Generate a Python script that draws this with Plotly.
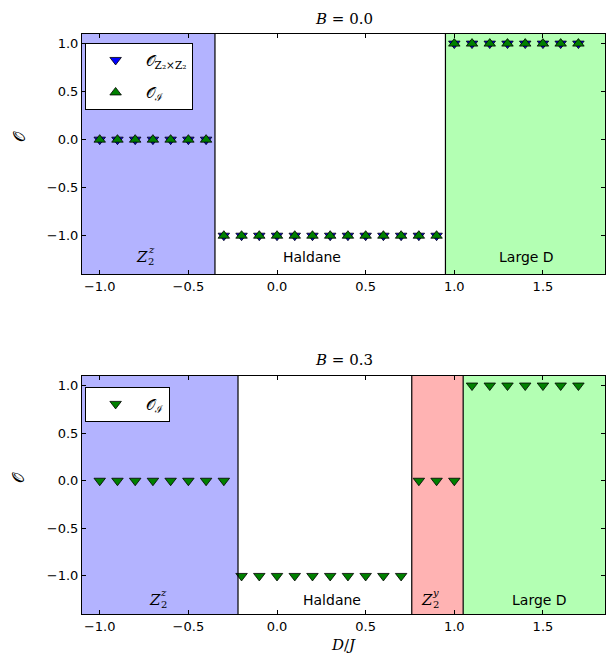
import plotly.graph_objects as go
from plotly.subplots import make_subplots

# ---- data (top panel, B = 0.0) ----
top_D = [-1.0, -0.9, -0.8, -0.7, -0.6, -0.5, -0.4,
         -0.3, -0.2, -0.1, 0.0, 0.1, 0.2, 0.3, 0.4, 0.5, 0.6, 0.7, 0.8, 0.9,
         1.0, 1.1, 1.2, 1.3, 1.4, 1.5, 1.6, 1.7]
top_O_Z2Z2 = [0, 0, 0, 0, 0, 0, 0,
              -1, -1, -1, -1, -1, -1, -1, -1, -1, -1, -1, -1, -1,
              1, 1, 1, 1, 1, 1, 1, 1]
top_O_I = [0, 0, 0, 0, 0, 0, 0,
           -1, -1, -1, -1, -1, -1, -1, -1, -1, -1, -1, -1, -1,
           1, 1, 1, 1, 1, 1, 1, 1]
top_bounds = [-0.35, 0.95]

# ---- data (bottom panel, B = 0.3) ----
bot_D = [-1.0, -0.9, -0.8, -0.7, -0.6, -0.5, -0.4, -0.3,
         -0.2, -0.1, 0.0, 0.1, 0.2, 0.3, 0.4, 0.5, 0.6, 0.7,
         0.8, 0.9, 1.0,
         1.1, 1.2, 1.3, 1.4, 1.5, 1.6, 1.7]
bot_O_I = [0, 0, 0, 0, 0, 0, 0, 0,
           -1, -1, -1, -1, -1, -1, -1, -1, -1, -1,
           0, 0, 0,
           1, 1, 1, 1, 1, 1, 1]
bot_bounds = [-0.22, 0.76, 1.05]

x_range = [-1.1, 1.85]
y_range = [-1.4, 1.1]
x_ticks = [-1.0, -0.5, 0.0, 0.5, 1.0, 1.5]
y_ticks = [-1.0, -0.5, 0.0, 0.5, 1.0]

BLUE_BG = "#b3b3ff"
GREEN_BG = "#b3ffb3"
RED_BG = "#ffb3b3"

fig = make_subplots(rows=2, cols=1, vertical_spacing=0.176)
fig.update_layout(
    xaxis=dict(domain=[0, 1]), yaxis=dict(domain=[0.586, 1.0]),
    xaxis2=dict(domain=[0, 1]), yaxis2=dict(domain=[0.0, 0.4103]),
)

O = "\U0001D4AA"
mk = dict(size=10, line=dict(color="black", width=0.8))

fig.add_trace(go.Scatter(x=top_D, y=top_O_Z2Z2, mode="markers",
                         name=O + "<sub>Z₂×Z₂</sub>", legendgroup="a",
                         marker=dict(symbol="triangle-down", color="#0000ff", **mk),
                         legend="legend"), row=1, col=1)
fig.add_trace(go.Scatter(x=top_D, y=top_O_I, mode="markers",
                         name=O + "<sub>ℐ</sub>", legendgroup="b",
                         marker=dict(symbol="triangle-up", color="#008000", **mk),
                         legend="legend"), row=1, col=1)
fig.add_trace(go.Scatter(x=bot_D, y=bot_O_I, mode="markers",
                         name=O + "<sub>ℐ</sub>", legendgroup="c",
                         marker=dict(symbol="triangle-down", color="#008000", **mk),
                         legend="legend2"), row=2, col=1)

def regions(xref, yref, bounds, colors):
    edges = [x_range[0]] + bounds + [x_range[1]]
    for i, c in enumerate(colors):
        if c is None:
            continue
        fig.add_shape(type="rect", xref=xref, yref=yref + " domain",
                      x0=edges[i], x1=edges[i + 1], y0=0, y1=1,
                      fillcolor=c, line=dict(width=0), layer="below")
    for b in bounds:
        fig.add_shape(type="line", xref=xref, yref=yref + " domain",
                      x0=b, x1=b, y0=0, y1=1,
                      line=dict(color="black", width=1.2), layer="above")

regions("x", "y", top_bounds, [BLUE_BG, None, GREEN_BG])
regions("x2", "y2", bot_bounds, [BLUE_BG, None, RED_BG, GREEN_BG])

ax = dict(showline=True, linecolor="black", linewidth=1, mirror="allticks",
          ticks="inside", ticklen=4, tickcolor="black", showgrid=False,
          zeroline=False, tickfont=dict(family="DejaVu Sans", size=13, color="black"))
fig.update_xaxes(range=x_range, tickvals=x_ticks, tickformat=".1f", **ax)
fig.update_yaxes(range=y_range, tickvals=y_ticks, tickformat=".1f", **ax)

serif = "DejaVu Serif"
ann = []
def lab(text, x, y, xref, yref, size=14, fam="DejaVu Sans", xs=0, ys=0):
    ann.append(dict(text=text, x=x, y=y, xref=xref, yref=yref, showarrow=False,
                    font=dict(family=fam, size=size, color="black"),
                    xanchor="center", yanchor="middle", xshift=xs, yshift=ys))

def zlab(sup, x, y, xref, yref):
    lab("<i>Z</i>", x, y, xref, yref, 15, serif)
    lab("2", x, y, xref, yref, 10, serif, xs=9, ys=-5)
    lab("<i>%s</i>" % sup, x, y, xref, yref, 10, serif, xs=9, ys=7)

zlab("z", -0.76, -1.22, "x", "y")
lab("Haldane", 0.2, -1.22, "x", "y", 14)
lab("Large D", 1.41, -1.22, "x", "y", 14)
zlab("z", -0.69, -1.25, "x2", "y2")
lab("Haldane", 0.31, -1.25, "x2", "y2", 14)
zlab("y", 0.845, -1.25, "x2", "y2")
lab("Large D", 1.48, -1.25, "x2", "y2", 14)

lab("<i>B</i> = 0.0", 0.5, 1.026, "paper", "paper", 15, serif)
lab("<i>B</i> = 0.3", 0.5, 0.438, "paper", "paper", 15, serif)
lab("<i>D</i>/<i>J</i>", 0.5, -0.053, "paper", "paper", 15, serif)
for yy in [0.8235, 0.2345]:
    ann.append(dict(text=O, x=-0.12, y=yy, xref="paper", yref="paper",
                    showarrow=False, textangle=-90,
                    font=dict(family=serif, size=16, color="black"),
                    xanchor="center", yanchor="middle"))

leg = dict(bgcolor="white", bordercolor="black", borderwidth=1,
           font=dict(family=serif, size=15, color="black"),
           xanchor="left", yanchor="top", itemwidth=50,
           tracegroupgap=10)

fig.update_layout(
    width=606, height=662,
    margin=dict(l=82, r=1, t=34, b=48),
    paper_bgcolor="white", plot_bgcolor="white",
    annotations=ann,
    showlegend=True,
    legend=dict(x=0.005, y=0.985, **leg),
    legend2=dict(x=0.005, y=0.392, **leg),
)

fig.write_html("out.html", config={"displayModeBar": False},
               post_script="document.body.style.margin='0';document.body.style.overflow='hidden';")
